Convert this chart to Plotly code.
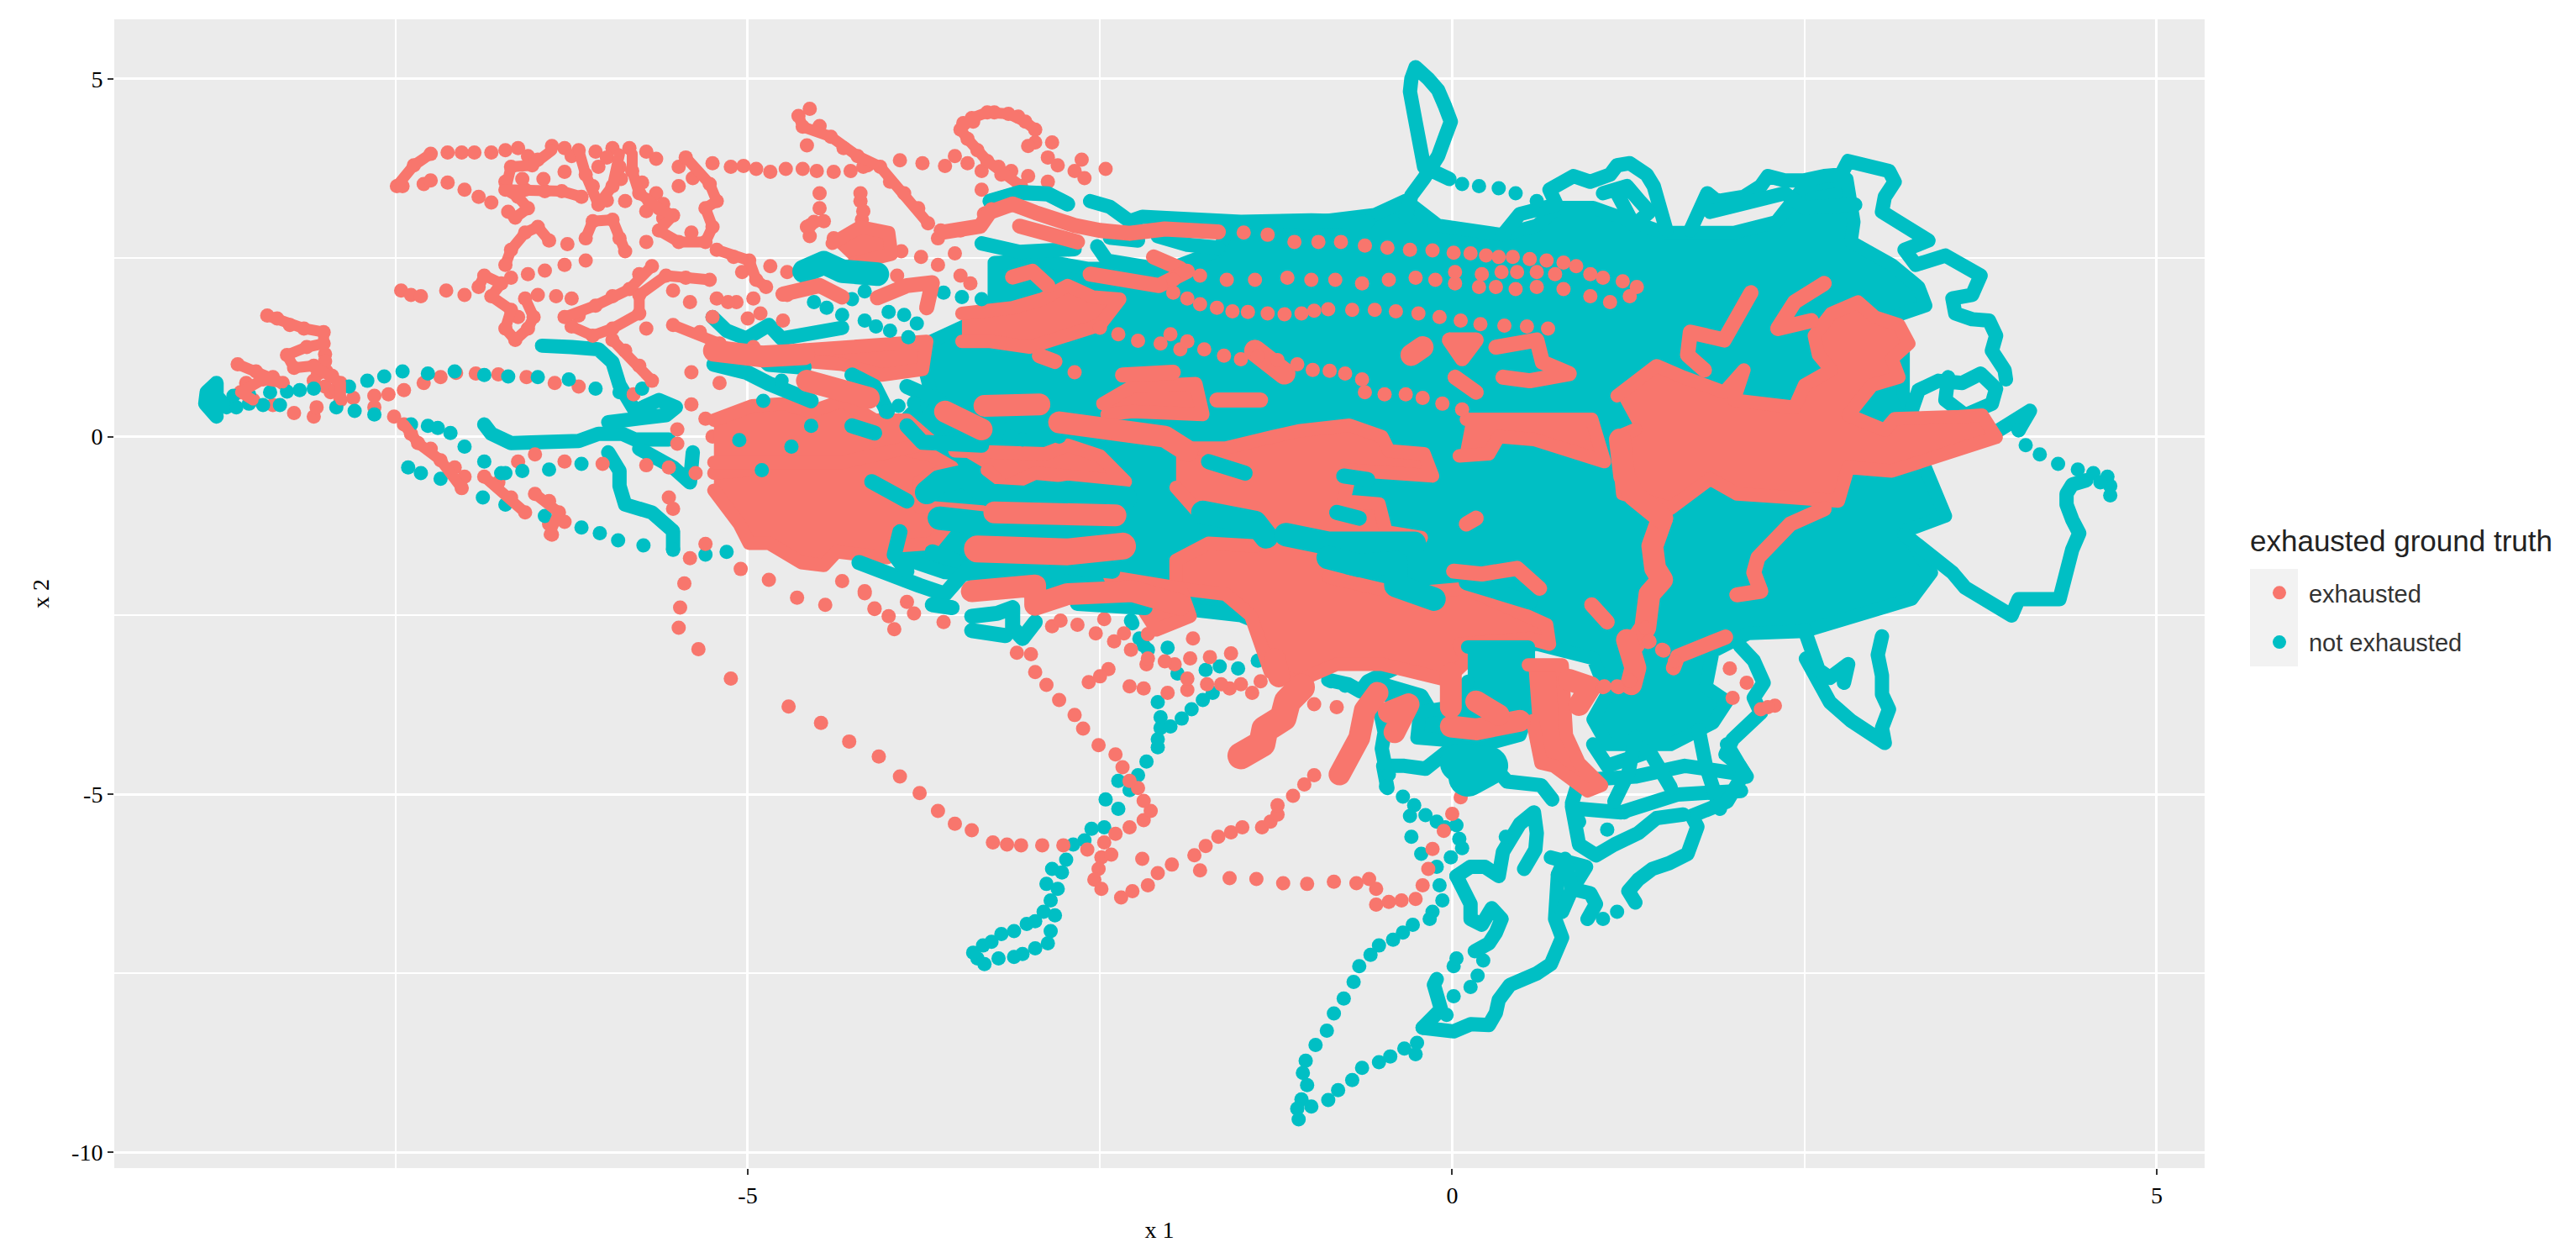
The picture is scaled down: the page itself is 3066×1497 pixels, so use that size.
import plotly.graph_objects as go

RED = "#F8766D"
TEAL = "#00BFC4"

# ---------- values: (x1, x2) ----------
teal_mass = [(-3.73,1.3),(-3.4,1.6),(-3.25,1.9),(-3.25,2.43),(-2.9,2.46),(-2.59,2.35),(-2.0,2.35),(-1.66,2.6),(-1.6,2.85),(-1.2,2.95),(-0.55,3.1),(-0.33,3.3),(-0.1,2.95),(0.36,2.82),(0.6,2.95),(0.75,3.2),(1.0,3.2),(1.5,2.85),(2.0,2.85),(2.3,3.0),(2.5,3.5),(2.8,3.6),(2.85,3.0),(2.83,2.72),(3.12,2.4),(3.31,2.09),(3.36,1.83),(3.12,1.67),(3.2,1.2),(3.2,0.6),(3.3,0.2),(3.35,-0.4),(3.5,-1.11),(3.21,-1.32),(3.4,-1.9),(3.26,-2.27),(2.5,-2.72),(2.1,-2.75),(1.85,-3.0),(1.8,-3.5),(1.95,-3.7),(1.85,-4.0),(1.55,-4.3),(1.1,-4.3),(1.0,-3.95),(1.1,-3.6),(1.0,-3.1),(0.6,-2.9),(0.0,-2.95),(-0.5,-2.9),(-1.0,-2.9),(-1.5,-2.5),(-2.4,-2.3),(-3.0,-2.0),(-3.6,-1.9),(-3.9,-1.7),(-4.0,-1.0),(-3.8,-0.2),(-3.9,0.2),(-3.7,0.6),(-3.75,1.0)]
teal_pocket = [(0.11,-2.94),(0.54,-2.94),(0.54,-3.85),(0.48,-4.17),(0.26,-4.29),(-0.25,-4.21),(-0.23,-3.85),(-0.01,-3.78),(0.11,-3.42)]

teal_top_loop = [(-0.33,3.08),(-0.29,3.37),(-0.2,3.61),(-0.14,3.77),(-0.1,3.92),(-0.05,4.19),(-0.01,4.4),(-0.05,4.61),(-0.1,4.84),(-0.17,5.0),(-0.26,5.16),(-0.29,5.0),(-0.3,4.82),(-0.27,4.5),(-0.24,4.19),(-0.2,3.92),(-0.2,3.77),(-0.14,3.71),(-0.02,3.6)]
teal_loop_a = [(0.36,2.82),(0.48,3.11),(0.74,3.24),(0.69,3.45),(0.86,3.64),(0.98,3.56),(1.12,3.66),(1.17,3.79),(1.26,3.82),(1.38,3.66),(1.43,3.5),(1.48,3.19),(1.52,2.88)]
teal_loop_b = [(1.07,3.4),(1.24,3.5),(1.33,3.29),(1.4,3.14),(1.29,2.95),(1.21,3.19),(1.17,3.4)]
teal_edge_a = [(1.69,2.88),(1.76,3.14),(1.81,3.4),(1.88,3.29),(2.07,3.35),(2.19,3.5),(2.24,3.64),(2.36,3.58),(2.5,3.58),(2.64,3.64),(2.76,3.66),(2.81,3.85),(2.98,3.79),(3.1,3.71),(3.14,3.56),(3.07,3.35),(3.05,3.14),(3.17,3.01),(3.29,2.88),(3.38,2.74),(3.21,2.61),(3.29,2.4),(3.5,2.53),(3.64,2.38),(3.75,2.25),(3.69,1.98),(3.55,1.93),(3.57,1.72),(3.69,1.64),(3.81,1.62),(3.86,1.41),(3.83,1.2),(3.92,0.93),(3.93,0.8)]
teal_edge_b = [(1.83,3.14),(2.02,3.24),(2.36,3.4),(2.5,3.2),(2.86,3.24)]
teal_edge_c = [(3.26,0.36),(3.31,0.65),(3.45,0.78),(3.62,0.75),(3.75,0.88),(3.86,0.67),(3.83,0.46),(3.64,0.3),(3.5,0.51),(3.52,0.83)]
teal_edge_d = [(3.88,0.09),(4.02,0.25),(4.1,0.36),(4.02,0.09)]
teal_far_right = [(4.5,-0.61),(4.4,-0.67),(4.36,-0.8),(4.36,-0.95),(4.4,-1.16),(4.45,-1.35),(4.4,-1.58),(4.37,-1.85),(4.33,-2.06),(4.31,-2.27),(4.17,-2.27),(4.02,-2.27),(3.97,-2.5),(3.79,-2.29),(3.64,-2.11),(3.55,-1.9),(3.4,-1.64),(3.21,-1.37)]
teal_low_right = [(2.51,-3.1),(2.58,-3.39),(2.68,-3.71),(2.83,-3.97),(2.98,-4.2),(3.07,-4.28),(3.05,-4.07),(3.1,-3.81),(3.05,-3.6),(3.05,-3.34),(3.02,-3.05),(3.05,-2.79)]
teal_low_right_b = [(2.78,-3.44),(2.81,-3.18),(2.68,-3.37),(2.6,-3.26),(2.5,-2.7)]
teal_lower_a = [(-0.46,-4.91),(-0.49,-4.6),(-0.34,-4.6),(-0.19,-4.64),(-0.01,-4.36),(0.17,-4.44),(0.31,-4.64),(0.39,-4.82),(0.63,-4.87),(0.71,-5.07)]
teal_lower_b = [(-0.51,-3.85),(-0.48,-4.13),(-0.5,-4.36),(-0.48,-4.56)]
teal_lower_c = [(-0.88,-3.4),(-0.74,-3.46),(-0.65,-3.56),(-0.6,-3.42),(-0.4,-3.23),(-0.31,-3.11)]
teal_lower_d = [(-0.42,-3.7),(-0.5,-3.46),(-0.22,-3.62),(-0.16,-3.82)]
teal_lobe = [(0.05,-4.56),(0.26,-4.6),(0.11,-4.76)]
teal_cluster_a = [(0.85,-5.12),(0.9,-4.8),(1.3,-4.75),(1.65,-4.6),(2.0,-4.7)]
teal_cluster_b = [(0.9,-5.2),(1.2,-5.25),(1.6,-5.0),(2.05,-4.95)]
teal_cluster_c = [(1.0,-4.3),(1.1,-4.6),(1.4,-4.4),(1.55,-4.9)]
teal_cluster_d = [(1.75,-4.1),(1.8,-4.6),(1.9,-5.2)]
teal_cluster_e = [(1.3,-4.2),(1.25,-4.7),(1.15,-5.1)]
teal_cluster_f = [(1.95,-4.3),(2.07,-4.7),(1.95,-5.1),(1.7,-5.3),(1.74,-5.45),(1.72,-5.59),(1.67,-5.83),(1.54,-5.96),(1.42,-6.04),(1.32,-6.19),(1.25,-6.35),(1.3,-6.51)]
teal_low_edge = [(2.04,-2.92),(2.14,-3.13),(2.21,-3.44),(2.14,-3.65),(2.19,-3.86),(2.09,-4.07),(1.99,-4.23),(1.94,-4.44),(2.04,-4.6),(2.09,-4.75)]
teal_bottom_loop = [(0.75,-6.12),(0.75,-6.43),(0.73,-6.74),(0.78,-7.0),(0.74,-7.21),(0.7,-7.37),(0.6,-7.5),(0.53,-7.58),(0.41,-7.66),(0.33,-7.87),(0.31,-8.05),(0.26,-8.22),(0.13,-8.21),(0.01,-8.31),(-0.16,-8.26),(-0.21,-8.26),(-0.08,-8.0),(-0.1,-7.82),(-0.13,-7.66),(-0.11,-7.58)]
teal_low_mid = [(0.03,-6.14),(0.09,-6.32),(0.13,-6.53),(0.13,-6.74),(0.21,-6.82),(0.28,-6.59),(0.35,-6.74),(0.31,-6.93),(0.26,-7.08),(0.16,-7.19)]
teal_low_mid_b = [(0.03,-6.14),(0.13,-6.01),(0.23,-6.01),(0.33,-6.14),(0.36,-5.8),(0.43,-5.59),(0.48,-5.41),(0.58,-5.25),(0.6,-5.54),(0.59,-5.77),(0.51,-6.04)]
teal_low_mid_c = [(0.7,-5.88),(0.85,-5.96),(0.95,-6.01),(0.9,-6.17),(0.85,-6.32),(0.98,-6.38),(1.02,-6.53),(0.96,-6.74)]
teal_low_mid_d = [(0.9,-5.38),(0.85,-5.17),(0.9,-5.7),(1.02,-5.85),(1.15,-5.7),(1.32,-5.54),(1.45,-5.33),(1.64,-5.28)]
teal_low_mid_e = [(0.78,-6.64),(0.85,-6.32),(0.8,-5.9),(0.75,-6.12)]

teal_dots_bottom = [(-0.07,-6.48),(-0.14,-6.64),(-0.16,-6.74),(-0.28,-6.82),(-0.35,-6.93),(-0.42,-7.03),(-0.52,-7.11),(-0.58,-7.24),(-0.66,-7.4),(-0.7,-7.62),(-0.77,-7.85),(-0.84,-8.06),(-0.89,-8.3),(-0.97,-8.5),(-1.04,-8.72),(-1.06,-8.89),(-1.03,-9.06),(-1.07,-9.26),(-1.1,-9.39),(-1.09,-9.54),(-1.0,-9.36),(-0.88,-9.27),(-0.81,-9.13),(-0.71,-8.99),(-0.64,-8.82),(-0.52,-8.74),(-0.44,-8.66),(-0.34,-8.55),(-0.26,-8.63),(-0.25,-8.47),(-0.21,-8.26),(-0.04,-8.08),(0.01,-7.82),(0.01,-7.4),(0.03,-7.29),(0.13,-7.69),(0.18,-7.53),(0.22,-7.32),(-0.35,-5.03),(-0.27,-5.15),(-0.3,-5.3),(-0.19,-5.29),(-0.11,-5.38),(-0.05,-5.46),(-0.29,-5.59),(-0.22,-5.83),(0.03,-5.43),(0.05,-5.62),(0.07,-5.75),(-0.01,-5.88),(-0.11,-6.01),(-0.09,-6.27),(0.38,-5.59),(1.07,-6.74),(1.17,-6.64),(1.1,-5.49),(1.22,-5.25),(-0.45,-4.72),(-0.47,-4.89)]
teal_dots_lowleft = [(-2.09,-4.34),(-2.09,-4.23),(-2.07,-4.07),(-2.0,-4.05),(-1.92,-3.94),(-1.85,-3.81),(-1.77,-3.68),(-1.70,-3.58),(-2.09,-3.71),(-2.07,-3.92),(-2.17,-4.54),(-2.23,-4.73),(-2.29,-4.94),(-2.37,-4.81),(-2.37,-5.2),(-2.46,-5.07),(-2.47,-5.46),(-2.56,-5.48),(-2.61,-5.64),(-2.69,-5.7),(-2.74,-5.91),(-2.77,-6.09),(-2.84,-6.04),(-2.88,-6.25),(-2.8,-6.32),(-2.85,-6.48),(-2.9,-6.64),(-2.82,-6.69),(-2.85,-6.91),(-2.87,-7.08),(-2.96,-7.15),(-3.05,-7.23),(-3.11,-7.27),(-3.22,-7.29),(-3.32,-7.37),(-3.37,-7.29),(-3.4,-7.21),(-3.33,-7.11),(-3.27,-7.06),(-3.2,-6.95),(-3.11,-6.91),(-3.02,-6.81),(-2.96,-6.77)]
teal_dots_mid_low = [(-2.27,-2.61),(-2.19,-2.92),(-2.02,-2.95),(-1.95,-3.31),(-1.75,-3.26),(-1.52,-3.24),(-1.65,-3.21),(-1.38,-3.13),(-1.13,-3.13),(-0.86,-3.42),(-0.76,-3.48),(-0.14,-3.86),(-0.21,-3.95),(-2.28,-2.57),(-2.22,-2.82),(-2.16,-2.98)]
teal_dots_right = [(0.07,3.53),(0.19,3.5),(0.33,3.47),(0.45,3.4),(0.6,3.29),(4.02,0.09),(4.07,-0.12),(4.17,-0.25),(4.3,-0.38),(4.44,-0.46),(4.55,-0.51),(4.65,-0.56),(4.67,-0.69),(4.67,-0.82),(4.6,-0.64)]
teal_dots_left = [(-8.63,0.41),(-8.54,0.46),(-8.44,0.44),(-8.32,0.44),(-8.65,0.57),(-8.54,0.59),(-8.39,0.62),(-8.27,0.63),(-8.18,0.65),(-8.08,0.67),(-7.92,0.41),(-7.79,0.36),(-7.65,0.31),(-7.83,0.7),(-7.7,0.78),(-7.58,0.84),(-7.45,0.91),(-7.27,0.88),(-7.08,0.91),(-6.87,0.86),(-6.7,0.84),(-6.49,0.83),(-6.27,0.8),(-6.08,0.67),(-5.91,0.62),(-5.75,0.67),(-7.39,0.17),(-7.27,0.15),(-7.2,0.12),(-7.11,0.05),(-7.01,-0.14),(-6.87,-0.35),(-6.75,-0.51),(-6.88,-0.85),(-6.72,-0.95),(-6.44,-1.11),(-6.18,-1.27),(-6.05,-1.35),(-5.92,-1.45),(-5.74,-1.52),(-5.53,-1.58),(-5.3,-1.65),(-5.15,-1.61),(-7.41,-0.43),(-7.32,-0.51),(-7.18,-0.59),(-6.72,-0.51),(-6.6,-0.48),(-6.41,-0.46),(-6.18,-0.38)]
teal_dots_centre = [(-4.17,1.62),(-4.09,1.54),(-3.99,1.48),(-3.89,1.7),(-3.8,1.58),(-3.86,1.39),(-4.0,1.74),(-4.17,2.03),(-4.26,1.92),(-4.53,1.88),(-4.44,1.8),(-4.33,1.7),(-3.61,2.01),(-3.48,1.95),(-3.34,1.92),(-3.93,0.43),(-3.82,0.47),(-4.02,0.35),(-4.76,0.78),(-4.89,0.5),(-5.06,-0.05),(-4.69,-0.14),(-4.55,0.15),(-3.18,0.29),(-3.14,0.0),(-3.05,-0.04),(-2.79,0.0),(-4.9,-0.47)]
teal_far_left = [(-8.7,0.41),(-8.77,0.57),(-8.77,0.75),(-8.84,0.62),(-8.85,0.46),(-8.77,0.28)]
teal_left_a = [(-6.87,0.17),(-6.82,0.04),(-6.68,-0.09),(-6.49,-0.09),(-6.32,-0.09),(-6.2,-0.06),(-6.06,0.04),(-5.89,0.04),(-5.8,-0.04),(-5.68,-0.04),(-5.56,-0.04)]
teal_left_b = [(-5.99,0.2),(-5.77,0.23),(-5.58,0.3),(-5.51,0.41),(-5.63,0.51),(-5.8,0.36),(-5.91,0.72),(-5.96,1.04),(-6.06,1.22),(-6.25,1.25),(-6.46,1.27)]
teal_left_c = [(-5.99,-0.22),(-5.91,-0.48),(-5.91,-0.69),(-5.87,-0.95),(-5.68,-1.06),(-5.53,-1.32),(-5.53,-1.58)]
teal_left_d = [(-5.77,-0.17),(-5.53,-0.43),(-5.41,-0.64),(-5.39,-0.22)]
teal_left_e = [(-5.25,1.67),(-5.15,1.48),(-5.01,1.37),(-4.85,1.56),(-4.76,1.37),(-4.55,1.45),(-4.33,1.52)]
teal_upper_a = [(-3.28,3.29),(-3.07,3.41),(-2.87,3.39),(-2.73,3.25)]
teal_upper_b = [(-2.57,3.29),(-2.43,3.21),(-2.29,3.01),(-2.2,3.07),(-2.0,3.05),(-1.5,3.0),(-1.0,3.02),(-0.6,3.0)]
teal_upper_c = [(-3.34,2.7),(-3.23,2.66),(-3.14,2.6),(-3.07,2.58),(-2.87,2.6),(-2.68,2.62)]
teal_upper_d = [(-2.09,2.8),(-1.88,2.68),(-1.66,2.64)]
teal_upper_e = [(-2.52,2.66),(-2.45,2.46),(-2.18,2.37),(-1.97,2.35)]
teal_upper_f = [(-2.43,2.78),(-2.23,2.74)]
teal_blob_top = [(-4.6,2.31),(-4.46,2.43),(-4.33,2.31),(-4.08,2.27)]
teal_row_a = [(-5.24,1.01),(-5.01,0.9),(-4.85,0.74),(-4.72,0.62),(-4.55,0.5)]
teal_row_b = [(-4.94,1.17),(-4.85,1.01),(-4.6,0.97)]
teal_row_c = [(-4.26,0.86),(-4.1,0.7),(-4.01,0.35)]
teal_row_d = [(-3.87,0.7),(-3.64,0.5),(-3.6,0.15)]
teal_row_e = [(-3.87,0.15),(-3.76,-0.08),(-3.34,-0.12)]
teal_row_f = [(-4.26,0.15),(-4.1,0.05)]
teal_row_g = [(-3.64,-1.14),(-3.28,-1.22),(-3.34,-1.33),(-2.96,-1.37),(-2.73,-1.37)]
teal_row_h = [(-3.73,-0.78),(-3.64,-0.63),(-3.46,-0.55),(-3.28,-0.82),(-2.96,-0.86),(-2.73,-0.78),(-2.32,-0.86)]
teal_row_i = [(-4.21,-1.76),(-3.98,-1.96),(-3.78,-2.08),(-3.6,-2.2),(-3.44,-1.84),(-3.05,-1.82),(-2.91,-1.82),(-2.75,-1.82),(-2.41,-1.88)]
teal_row_j = [(-3.92,-1.33),(-3.96,-1.65),(-3.87,-1.88)]
teal_row_k = [(-3.69,-1.61),(-3.53,-1.73)]
teal_row_l = [(-3.69,-2.35),(-3.55,-2.39)]
teal_row_m = [(-3.41,-2.51),(-3.23,-2.47),(-3.12,-2.39),(-3.12,-2.67),(-3.05,-2.82),(-2.96,-2.59)]
teal_row_n = [(-3.41,-2.71),(-3.3,-2.75),(-3.17,-2.78)]
teal_row_o = [(-2.66,-2.33),(-2.41,-2.35),(-2.18,-2.39)]
teal_row_p = [(-4.12,-0.63),(-3.87,-0.9)]
teal_row_q = [(-1.77,-1.06),(-1.4,-1.2),(-1.32,-1.4)]
teal_row_r = [(-1.18,-1.37),(-0.88,-1.49),(-0.59,-1.49),(-0.27,-1.49)]
teal_row_s = [(-0.88,-1.69),(-0.66,-1.8),(-0.4,-1.76),(-0.4,-2.08),(-0.13,-2.27)]
teal_row_t = [(-1.73,-0.35),(-1.47,-0.51)]
teal_row_u = [(-0.82,-1.06),(-0.66,-1.14)]
teal_row_v = [(0.1,-2.04),(0.33,-2.16),(0.55,-2.31)]
teal_row_w = [(-0.77,-0.55),(-0.6,-0.6)]

red_right_blob = [(1.17,0.57),(1.45,0.99),(1.64,0.83),(1.93,0.62),(2.07,0.93),(2.0,0.51),(2.43,0.41),(2.5,0.72),(2.69,0.93),(2.6,1.14),(2.57,1.41),(2.69,1.72),(2.88,1.88),(3.0,1.67),(3.17,1.56),(3.24,1.3),(3.12,1.09),(3.17,0.83),(2.98,0.72),(2.81,0.3),(3.07,0.09),(3.14,0.25),(3.6,0.28),(3.76,0.3),(3.86,-0.01),(3.36,-0.35),(3.12,-0.48),(2.81,-0.43),(2.74,-0.9),(2.4,-0.85),(2.02,-0.8),(1.83,-0.59),(1.55,-1.0),(1.21,-0.8),(1.17,-0.01),(1.3,0.1)]
red_left_blob = [(-5.24,-0.51),(-5.01,-0.47),(-4.83,-0.24),(-4.33,0.04),(-3.69,-0.27),(-3.55,-0.43),(-3.78,-0.63),(-3.78,-0.98),(-3.3,-1.06),(-3.64,-1.1),(-3.59,-1.25),(-3.69,-1.49),(-3.96,-1.53),(-4.01,-1.69),(-4.37,-1.61),(-4.46,-1.8),(-4.62,-1.76),(-4.74,-1.61),(-4.85,-1.49),(-4.99,-1.49),(-5.06,-1.22),(-5.24,-0.75)]
red_left_top = [(-5.24,0.23),(-4.97,0.43),(-4.74,0.46),(-4.55,0.35),(-4.33,0.5),(-4.1,0.23),(-3.87,0.23),(-3.69,-0.08),(-4.33,-0.36),(-5.24,-0.36)]
red_left_chunk = [(-3.53,-0.2),(-2.89,-0.24),(-2.73,-0.12),(-2.5,-0.27),(-2.32,-0.63),(-2.73,-0.55),(-2.96,-0.51),(-3.18,-0.71),(-3.3,-0.47)]
red_upper_blob = [(-4.4,2.7),(-4.2,2.93),(-4.0,2.85),(-3.98,2.55),(-4.25,2.42)]
red_ctr_top = [(-3.48,1.72),(-3.12,1.8),(-2.91,1.92),(-2.73,2.11),(-2.55,1.95),(-2.36,1.92),(-2.5,1.56),(-2.71,1.41),(-3.0,1.25),(-3.28,1.33),(-3.48,1.33)]
red_ctr_band = [(-4.6,1.21),(-4.21,1.25),(-3.73,1.33),(-3.76,0.94),(-4.05,0.86),(-4.33,1.01),(-4.58,1.05)]
red_ctr_mid = [(-2.48,0.46),(-2.27,0.7),(-1.82,0.74),(-1.77,0.31),(-2.27,0.35),(-2.45,0.31)]
red_centre_blob = [(-1.96,-0.16),(-1.61,-0.16),(-1.27,0.0),(-1.09,0.08),(-0.73,0.16),(-0.5,0.0),(-0.45,-0.2),(-0.2,-0.24),(-0.14,-0.55),(-0.72,-0.47),(-0.77,-0.9),(-0.52,-0.94),(-0.47,-1.33),(-0.22,-1.41),(-0.54,-1.45),(-0.68,-1.69),(-0.88,-1.96),(-0.36,-2.2),(0.1,-2.12),(0.33,-2.31),(0.67,-2.63),(0.69,-2.9),(0.55,-2.82),(0.05,-2.9),(0.1,-3.14),(-0.04,-3.4),(-0.5,-3.18),(-0.82,-3.18),(-1.1,-3.42),(-1.29,-3.29),(-1.43,-2.5),(-1.61,-2.2),(-1.96,-2.12),(-1.96,-1.73),(-1.84,-1.61),(-1.73,-1.49),(-1.39,-1.53),(-1.32,-1.33),(-1.59,-1.1),(-1.82,-1.02),(-1.96,-0.71)]
red_mid_blob = [(0.1,0.24),(0.99,0.24),(1.08,-0.35),(0.83,-0.2),(0.58,-0.04),(0.33,0.0),(0.26,-0.24),(0.05,-0.27)]
red_low_wedge = [(0.54,-3.19),(0.78,-3.19),(0.81,-4.17),(0.9,-4.56),(1.06,-4.87),(0.96,-4.95),(0.72,-4.6),(0.63,-4.56),(0.57,-3.97)]
red_bottom_blob = [(-2.43,-1.96),(-1.93,-2.12),(-1.86,-2.51),(-2.1,-2.7),(-2.23,-2.3)]

red_arm_a = [(2.12,2.01),(2.02,1.67),(1.93,1.35),(1.69,1.46),(1.67,1.14),(1.79,0.93)]
red_arm_b = [(2.64,2.14),(2.43,1.88),(2.31,1.51),(2.55,1.62)]
red_arm_c = [(1.49,-1.14),(1.42,-1.53),(1.44,-1.84),(1.49,-2.0),(1.4,-2.2),(1.39,-2.51),(1.37,-2.67),(1.29,-2.9)]
red_arm_d = [(2.64,-1.01),(2.4,-1.22),(2.17,-1.69),(2.14,-1.9),(2.19,-2.16),(2.02,-2.21)]
red_arm_e = [(1.94,-2.8),(1.76,-2.97),(1.6,-3.07),(1.57,-3.23)]
red_arm_f = [(1.24,-2.84),(1.3,-3.23),(1.27,-3.46)]
red_arm_g = [(1.19,-0.04),(1.22,-0.55),(1.29,-0.82),(1.49,-1.14)]
red_circle = [(0.83,-3.4),(0.98,-3.5),(0.9,-3.75)]
red_trail_low_b = [(-0.01,-4.05),(0.17,-4.09),(0.48,-3.97)]
red_low_blob = [(-1.5,-4.46),(-1.35,-4.29),(-1.33,-4.09),(-1.2,-3.93),(-1.17,-3.7),(-1.07,-3.5)]
red_low_b = [(-0.8,-4.72),(-0.71,-4.44),(-0.66,-4.21),(-0.62,-3.82),(-0.53,-3.58)]
red_low_c = [(-0.45,-3.85),(-0.31,-3.74),(-0.41,-4.13)]
red_low_d = [(-0.01,-3.31),(-0.01,-3.78)]
red_low_e = [(0.17,-3.7),(0.33,-3.89)]
red_low_f = [(-1.26,-3.11),(-1.23,-3.35)]
red_row_a = [(-3.32,3.11),(-3.12,3.25),(-2.96,3.13),(-2.82,3.03),(-2.68,2.95),(-2.5,2.88),(-2.29,2.84),(-2.04,2.9),(-1.66,2.86)]
red_row_b = [(-3.07,2.94),(-2.84,2.84),(-2.66,2.72)]
red_row_c = [(-3.12,2.23),(-2.98,2.31),(-2.87,2.11)]
red_row_d = [(-2.57,2.27),(-2.34,2.19),(-2.08,2.11),(-1.88,2.31)]
red_row_e = [(-3.6,2.86),(-3.35,2.94),(-3.27,3.17)]
red_row_f = [(-4.08,1.94),(-3.87,2.11),(-3.69,2.15),(-3.73,1.8)]
red_row_g = [(-4.75,1.99),(-4.49,2.11),(-4.33,1.95)]
red_row_h = [(-4.58,0.78),(-4.14,0.54)]
red_row_i = [(-3.32,0.43),(-3.0,0.45),(-2.93,0.45)]
red_row_j = [(-3.6,0.35),(-3.34,0.1)]
red_row_k = [(-2.79,0.2),(-2.43,0.11),(-2.04,0.0),(-1.88,-0.2)]
red_row_l = [(-3.37,-1.57),(-2.73,-1.61),(-2.34,-1.53)]
red_row_m = [(-3.25,-1.06),(-2.39,-1.1)]
red_row_n = [(-3.41,-2.16),(-2.96,-2.08),(-2.96,-2.35),(-2.73,-2.2),(-2.27,-2.16),(-1.93,-2.35)]
red_row_o = [(-2.93,1.13),(-2.82,1.05)]
red_row_p = [(-2.34,0.86),(-1.98,0.9)]
red_row_q = [(-5.24,1.2),(-4.9,1.12),(-4.6,1.15)]
red_net_a = [(0.01,-1.88),(0.21,-1.92),(0.46,-1.84),(0.62,-2.12)]
red_net_b = [(0.99,-2.35),(1.1,-2.59)]
red_net_c = [(0.1,-1.22),(0.17,-1.14)]
red_band_i = [(-0.29,1.14),(-0.21,1.25)]
red_band_j = [(-1.67,0.51),(-1.36,0.51)]
red_band_k = [(-1.4,1.2),(-1.19,0.88)]
red_band_m = [(-2.12,2.51),(-1.93,2.35)]
red_loop_a = [(-0.02,1.35),(0.17,1.35),(0.07,1.09),(-0.02,1.35)]
red_loop_b = [(0.31,1.25),(0.6,1.35),(0.64,1.04),(0.83,0.88),(0.55,0.78),(0.36,0.83)]
red_loop_c = [(0.02,0.83),(0.17,0.62)]

red_chain_a = [(-7.49,3.5),(-7.37,3.79),(-7.25,3.95)]
red_chain_b = [(-6.72,3.45),(-6.68,3.77),(-6.53,3.79),(-6.39,4.0)]
red_chain_c = [(-6.2,4.0),(-6.15,3.66),(-6.06,3.24),(-5.96,3.5),(-5.91,3.95)]
red_chain_d = [(-5.82,3.95),(-5.82,3.71),(-5.77,3.4),(-5.63,3.19),(-5.53,3.09),(-5.63,2.88),(-5.49,2.72),(-5.3,2.72),(-5.25,2.93),(-5.3,3.19),(-5.22,3.29),(-5.27,3.53),(-5.44,3.9)]
red_chain_e = [(-6.7,3.14),(-6.65,3.06),(-6.56,3.19),(-6.63,3.35),(-6.72,3.45),(-6.58,3.45),(-6.32,3.43),(-6.18,3.35)]
red_chain_f = [(-6.15,2.77),(-6.1,3.01),(-5.96,3.03),(-5.91,2.77),(-5.87,2.59)]
red_chain_g = [(-6.72,2.4),(-6.68,2.61),(-6.58,2.85),(-6.49,2.93),(-6.41,2.74)]
red_chain_h = [(-6.91,2.09),(-6.87,2.25),(-6.75,2.14),(-6.82,1.96),(-6.68,1.77),(-6.72,1.51),(-6.65,1.35),(-6.56,1.51),(-6.52,1.67),(-6.58,1.93)]
red_chain_i = [(-8.41,1.69),(-8.15,1.51),(-8.01,1.46),(-8.01,1.3),(-8.13,1.25),(-8.27,1.14),(-8.22,0.96),(-8.08,0.99),(-7.89,0.75),(-7.89,0.51)]
red_chain_j = [(-8.62,1.01),(-8.49,0.91),(-8.3,0.75),(-8.44,0.8),(-8.6,0.62),(-8.51,0.51)]
red_chain_k = [(-6.3,1.67),(-6.08,1.83),(-5.84,2.06),(-5.68,2.38)]
red_chain_l = [(-6.25,1.54),(-6.1,1.41),(-5.96,1.51),(-5.77,1.72),(-5.77,1.98),(-5.58,2.25),(-5.27,2.19)]
red_chain_m = [(-5.96,1.35),(-5.77,0.99),(-5.68,0.78)]
red_chain_n = [(-5.53,1.56),(-5.2,1.3),(-5.06,1.14)]
red_chain_o = [(-5.22,2.61),(-4.99,2.46),(-4.94,2.19),(-4.87,2.09)]
red_chain_p = [(-4.64,4.48),(-4.61,4.33),(-4.41,4.19),(-4.22,3.92),(-4.06,3.77),(-3.89,3.4),(-3.72,2.98)]
red_chain_q = [(-2.96,4.29),(-3.03,4.4),(-3.15,4.51),(-3.3,4.53),(-3.41,4.45),(-3.49,4.29),(-3.44,4.16),(-3.3,3.85),(-3.06,3.5)]
red_chain_r = [(-7.03,-0.72),(-7.18,-0.33),(-7.34,-0.09),(-7.44,0.17)]
red_chain_s = [(-6.87,-0.56),(-6.58,-1.06)]
red_chain_t = [(-6.51,-0.8),(-6.34,-1.06),(-6.41,-1.37)]

red_dots_rows = [(-1.48,2.85),(-1.31,2.82),(-1.12,2.72),(-0.95,2.72),(-0.79,2.72),(-0.62,2.67),(-0.46,2.64),(-0.3,2.61),(-0.14,2.6),(0.01,2.57),(0.13,2.56),(0.24,2.53),(0.33,2.51),(0.43,2.51),(0.55,2.48),(0.67,2.46),(0.79,2.43),(0.88,2.38),(0.98,2.27),(1.07,2.22),(1.21,2.17),(1.31,2.09),(1.26,1.96),(1.12,1.88),(0.98,1.96),(0.79,2.06),(0.6,2.09),(0.45,2.06),(0.31,2.09),(0.19,2.09),(0.02,2.14),(-0.12,2.19),(-0.26,2.22),(-0.45,2.19),(-0.64,2.14),(-0.83,2.19),(-1.0,2.19),(-1.17,2.22),(-1.4,2.19),(-1.6,2.19),(-1.79,2.25),(-1.98,2.19),(0.02,2.3),(0.21,2.27),(0.35,2.3),(0.46,2.3),(0.6,2.3),(0.73,2.27),(-1.98,2.01),(-1.88,1.93),(-1.79,1.85),(-1.67,1.8),(-1.56,1.75),(-1.45,1.74),(-1.31,1.72),(-1.19,1.71),(-1.07,1.72),(-0.98,1.76),(-0.88,1.78),(-0.71,1.77),(-0.55,1.77),(-0.4,1.75),(-0.24,1.72),(-0.09,1.67),(0.06,1.62),(0.2,1.57),(0.37,1.55),(0.53,1.54),(0.68,1.51),(-1.76,1.22),(-1.62,1.13),(-1.5,1.08),(-1.38,1.12),(-1.24,1.07),(-1.1,1.01),(-0.99,0.93),(-0.87,0.92),(-0.76,0.88),(-0.64,0.8),(-0.62,0.62),(-0.48,0.59),(-0.33,0.59),(-0.21,0.54),(-0.07,0.46),(0.07,0.38),(-2.5,1.52),(-2.37,1.43),(-2.23,1.34),(-2.07,1.3),(-2.0,1.43),(-1.93,1.22),(-1.88,1.33),(-2.68,0.9),(1.07,-3.5),(1.18,-3.5),(1.5,-2.99),(1.39,-2.87),(1.08,-3.49),(1.17,-3.49),(1.26,-3.41),(1.37,-2.67),(1.4,-2.86),(1.49,-2.98),(1.58,-3.14)]
red_dots_low = [(-4.28,-4.26),(-4.07,-4.47),(-3.92,-4.75),(-3.78,-4.98),(-3.65,-5.23),(-3.53,-5.41),(-3.41,-5.5),(-3.26,-5.67),(-3.16,-5.7),(-3.06,-5.71),(-2.91,-5.71),(-2.76,-5.71),(-2.59,-5.77),(-2.49,-5.88),(-2.42,-5.84),(-2.47,-5.67),(-2.39,-5.55),(-2.29,-5.46),(-2.19,-5.36),(-2.14,-5.23),(-2.19,-5.09),(-2.23,-4.91),(-2.29,-4.81),(-2.34,-4.62),(-2.39,-4.44),(-2.51,-4.31),(-2.62,-4.08),(-2.68,-3.89),(-2.79,-3.68),(-2.88,-3.47),(-2.96,-3.29),(-3.09,-3.02),(-2.99,-3.04),(-5.49,-2.67),(-5.48,-2.39),(-5.45,-2.05),(-5.41,-1.7),(-5.35,-2.97),(-5.12,-3.38),(-4.71,-3.77),(-4.48,-4.0),(-2.51,-6.04),(-2.54,-6.19),(-2.49,-6.32),(-2.35,-6.44),(-2.27,-6.35),(-2.16,-6.27),(-2.09,-6.1),(-1.99,-5.98),(-1.83,-5.85),(-1.75,-5.72),(-1.66,-5.59),(-1.57,-5.53),(-1.49,-5.46),(-1.35,-5.46),(-1.29,-5.38),(-1.24,-5.28),(-1.24,-5.15),(-1.13,-5.02),(-1.05,-4.86),(-0.98,-4.73),(-2.2,-5.9),(-1.79,-6.06),(-1.58,-6.17),(-1.39,-6.18),(-1.2,-6.24),(-1.03,-6.25),(-0.84,-6.22),(-0.68,-6.24),(-0.59,-6.18),(-0.54,-6.32),(-0.54,-6.54),(-0.45,-6.5),(-0.36,-6.48),(-0.26,-6.46),(-0.21,-6.27),(-0.17,-6.04),(-0.14,-5.76),(-0.06,-5.51),(0.0,-5.27),(0.06,-5.04),(0.11,-4.85),(-0.98,-3.74),(-0.82,-3.78),(-0.15,-3.97),(0.42,-2.99),(0.49,-3.13),(-1.5,-3.46),(-1.58,-3.52),(-1.74,-3.46),(-1.64,-3.46),(-1.88,-3.54),(-1.88,-3.38),(-1.42,-3.58),(-1.36,-3.42),(-2.58,-3.43),(-2.44,-3.25),(-2.29,-3.49),(-2.5,-3.35),(-2.19,-3.52),(-2.02,-3.58),(-2.17,-3.18),(-1.97,-3.18),(-1.72,-3.08),(-1.57,-3.03),(-2.16,-3.1),(-2.04,-3.14),(-1.86,-3.1),(-1.84,-2.82),(-4.33,-2.02),(-4.17,-2.16),(-4.1,-2.41),(-4.0,-2.51),(-3.96,-2.69),(-3.82,-2.47),(-3.87,-2.31),(-3.61,-2.59),(-2.84,-2.65),(-2.78,-2.57),(-2.66,-2.63),(-2.53,-2.75),(-2.47,-2.55),(-2.4,-2.86),(-2.33,-2.75),(-2.28,-2.98),(-2.16,-2.76),(2.29,-3.76),(2.19,-3.81),(2.24,-3.78),(1.99,-3.65),(2.09,-3.44),(1.97,-3.24),(0.92,-3.71),(-4.17,-2.19),(-4.1,-2.4)]
red_dots_farleft = [(-8.41,1.69),(-8.34,1.65),(-8.25,1.56),(-8.15,1.51),(-8.01,1.46),(-8.01,1.3),(-8.13,1.25),(-8.27,1.14),(-8.22,0.96),(-8.08,0.99),(-7.99,0.91),(-7.89,0.75),(-7.96,0.62),(-8.08,0.78),(-7.89,0.51),(-8.62,1.01),(-8.49,0.91),(-8.37,0.83),(-8.3,0.75),(-8.44,0.8),(-8.56,0.75),(-8.6,0.62),(-8.51,0.51),(-8.37,0.44),(-8.22,0.33),(-8.08,0.28),(-8.06,0.41),(-8.0,0.7),(-7.95,0.85),(-8.05,0.88),(-7.92,0.66),(-8.0,1.15),(-8.0,1.05),(-7.8,0.54),(-7.65,0.57),(-7.55,0.59),(-7.44,0.65),(-7.3,0.75),(-7.18,0.83),(-7.07,0.89),(-6.93,0.88),(-6.77,0.87),(-6.57,0.83),(-6.37,0.75),(-6.2,0.7),(-5.81,0.59),(-7.65,0.41),(-7.51,0.28),(-7.44,0.17),(-7.39,0.04),(-7.34,-0.09),(-7.25,-0.17),(-7.18,-0.33),(-7.08,-0.43),(-7.01,-0.56),(-7.03,-0.72),(-6.87,-0.56),(-6.77,-0.64),(-6.68,-0.85),(-6.58,-1.06),(-6.51,-0.8),(-6.41,-0.9),(-6.34,-1.06),(-6.41,-1.22),(-6.39,-1.37),(-6.3,-1.19),(-6.63,-0.35),(-6.51,-0.25),(-6.3,-0.35),(-6.03,-0.38),(-5.72,-0.4),(-5.56,-0.43),(-5.37,-0.51),(-5.56,-0.85),(-5.53,-1.01)]
red_dots_topleft = [(-7.49,3.5),(-7.37,3.79),(-7.25,3.95),(-7.13,3.97),(-7.03,3.97),(-6.94,3.97),(-6.82,3.97),(-6.72,4.0),(-6.63,4.03),(-6.56,3.92),(-6.49,3.87),(-6.39,4.06),(-6.3,4.03),(-6.2,4.0),(-6.08,3.98),(-5.96,4.03),(-5.84,4.03),(-5.72,3.98),(-5.65,3.88),(-7.45,3.5),(-7.3,3.53),(-7.25,3.58),(-7.13,3.55),(-7.01,3.45),(-6.91,3.35),(-6.82,3.27),(-6.72,3.45),(-6.58,3.45),(-6.44,3.43),(-6.32,3.43),(-6.18,3.35),(-6.7,3.14),(-6.65,3.06),(-6.56,3.19),(-6.63,3.35),(-6.72,3.56),(-6.68,3.77),(-6.53,3.79),(-6.25,3.92),(-6.15,3.66),(-6.06,3.24),(-5.96,3.5),(-5.91,3.77),(-5.82,3.71),(-5.77,3.4),(-5.63,3.19),(-5.53,3.09),(-5.63,2.88),(-5.49,2.72),(-5.3,2.72),(-5.25,2.93),(-5.3,3.19),(-5.22,3.29),(-5.27,3.53),(-5.49,3.5),(-5.49,3.77),(-5.44,3.9),(-5.39,3.61),(-6.06,3.77),(-5.87,3.29),(-5.96,3.03),(-6.1,3.01),(-6.15,2.77),(-5.91,2.77),(-5.87,2.59),(-5.72,2.72),(-6.15,2.46),(-6.3,2.4),(-6.44,2.32),(-6.56,2.27),(-6.68,2.22),(-6.75,2.14),(-6.87,2.25),(-6.91,2.09),(-6.82,1.96),(-6.68,1.77),(-6.58,1.93),(-6.49,1.98),(-6.36,1.96),(-6.25,1.93),(-6.63,1.67),(-6.72,1.51),(-6.65,1.35),(-6.56,1.51),(-6.52,1.67),(-6.72,2.4),(-6.68,2.61),(-6.58,2.85),(-6.49,2.93),(-6.41,2.74),(-6.28,2.69),(-7.46,2.04),(-7.39,1.98),(-7.32,1.96),(-7.14,2.04),(-7.01,1.98),(-5.7,3.3),(-5.65,3.4),(-5.6,3.25),(-5.72,3.15),(-6.0,3.9),(-5.9,3.6),(-5.75,3.55),(-5.6,3.05),(-5.4,2.85),(-6.6,3.6),(-6.45,3.6),(-6.3,3.7),(-6.1,3.5),(-6.0,3.3)]
red_dots_mid = [(-5.22,2.61),(-5.1,2.51),(-4.99,2.46),(-5.04,2.3),(-4.94,2.19),(-4.84,2.38),(-4.72,2.3),(-4.87,2.09),(-4.72,1.98),(-4.58,2.09),(-5.68,2.38),(-5.77,2.27),(-5.84,2.06),(-5.96,1.96),(-6.08,1.83),(-6.2,1.69),(-6.3,1.67),(-6.25,1.54),(-6.1,1.41),(-5.96,1.51),(-5.77,1.72),(-5.77,1.98),(-5.58,2.25),(-5.44,2.22),(-5.27,2.19),(-5.22,1.93),(-5.53,2.04),(-5.41,1.88),(-5.72,1.51),(-5.96,1.35),(-5.87,1.2),(-5.77,0.99),(-5.68,0.78),(-5.53,1.56),(-5.34,1.46),(-5.2,1.3),(-5.06,1.14),(-4.96,1.25),(-5.08,1.88),(-4.96,1.93),(-4.91,1.72),(-5.25,1.67),(-5.4,0.9),(-5.2,0.75),(-5.4,0.45),(-5.3,0.25),(-5.5,-0.1),(-5.25,0.0),(-5.5,0.1),(-5.3,-1.5),(-5.05,-1.85),(-4.85,-2.0),(-4.65,-2.25),(-4.45,-2.35),(-5.14,1.88),(-5.0,1.65),(-4.75,1.62)]
red_dots_topmid = [(-4.64,4.48),(-4.56,4.58),(-4.61,4.33),(-4.49,4.34),(-4.41,4.19),(-4.32,4.03),(-4.22,3.92),(-4.15,3.79),(-4.06,3.77),(-3.99,3.56),(-3.89,3.4),(-3.79,3.19),(-3.72,2.98),(-3.65,2.77),(-4.58,4.07),(-5.25,3.82),(-5.12,3.77),(-5.03,3.78),(-4.94,3.74),(-4.84,3.7),(-4.73,3.74),(-4.61,3.74),(-4.51,3.71),(-4.39,3.7),(-4.27,3.71),(-4.18,3.77),(-3.92,3.86),(-3.76,3.82),(-3.6,3.78),(-3.53,3.92),(-3.44,3.82),(-3.34,3.71),(-3.22,3.77),(-3.13,3.71),(-3.01,3.64),(-2.87,3.56),(-3.49,4.29),(-3.41,4.45),(-3.3,4.53),(-3.15,4.51),(-3.03,4.4),(-2.96,4.29),(-2.96,4.11),(-2.84,4.11),(-3.01,4.06),(-2.87,3.9),(-2.8,3.79),(-2.63,3.87),(-2.68,3.71),(-2.46,3.74),(-2.61,3.61),(-3.44,4.16),(-3.37,4.0),(-3.3,3.85),(-3.2,3.66),(-3.06,3.5),(-3.34,3.45),(-4.49,3.4),(-4.49,3.19),(-4.46,3.01),(-4.56,2.8),(-4.39,2.77),(-4.2,3.29),(-4.19,3.03),(-3.63,2.88),(-3.49,2.88),(-3.53,2.56),(-3.77,2.51),(-3.65,2.4),(-3.91,2.59),(-3.94,2.25),(-3.49,2.25),(-3.42,2.14),(-4.58,2.93),(-3.4,4.4),(-3.47,4.38),(-3.25,4.53),(-3.08,4.47),(-4.53,3.0),(-4.56,2.95),(-4.2,3.4),(-4.18,3.15)]

x_ticks = [-5, 0, 5]
y_ticks = [-10, -5, 0, 5]
x_tick_labels = ["-5", "0", "5"]
y_tick_labels = ["-10", "-5", "0", "5"]
minor_grid = [-7.5, -2.5, 2.5]
series_names = ["exhausted", "not exhausted"]
legend_title = "exhausted ground truth"


def xs(points):
    return [p[0] for p in points]


def ys(points):
    return [p[1] for p in points]


fig = go.Figure()


def polygon(points, color):
    fig.add_trace(go.Scatter(x=xs(points), y=ys(points), mode="lines", fill="toself", fillcolor=color,
                             line=dict(color=color, width=16), showlegend=False, hoverinfo="skip"))


def ribbons(groups, color=TEAL, width=17):
    for g in groups:
        fig.add_trace(go.Scatter(x=xs(g), y=ys(g), mode="lines", line=dict(color=color, width=width),
                                 showlegend=False, hoverinfo="skip"))


def dots(points, color, name=None):
    fig.add_trace(go.Scatter(x=xs(points), y=ys(points), mode="markers", marker=dict(color=color, size=17),
                             name=name or "", legendgroup=name, showlegend=name is not None, hoverinfo="skip"))


# teal base
polygon(teal_mass, TEAL)
ribbons([teal_top_loop, teal_loop_a, teal_loop_b, teal_edge_a, teal_edge_b, teal_edge_c, teal_edge_d,
         teal_far_right, teal_low_right, teal_low_right_b, teal_lower_a, teal_lower_b, teal_lower_c, teal_lower_d,
         teal_cluster_a, teal_cluster_b, teal_cluster_c, teal_cluster_d, teal_cluster_e, teal_cluster_f,
         teal_low_edge, teal_bottom_loop, teal_low_mid, teal_low_mid_b, teal_low_mid_c, teal_low_mid_d,
         teal_low_mid_e, teal_far_left, teal_upper_a, teal_upper_b, teal_upper_c, teal_upper_d, teal_upper_e,
         teal_upper_f, teal_left_a, teal_left_b, teal_left_c, teal_left_d, teal_left_e])
# sparse dots
dots(red_dots_farleft, RED, series_names[0])
dots(teal_dots_left, TEAL, series_names[1])
dots(teal_dots_bottom, TEAL)
dots(teal_dots_lowleft, TEAL)
dots(teal_dots_mid_low, TEAL)
dots(teal_dots_right, TEAL)
dots(red_dots_low, RED)
dots(red_dots_topleft, RED)
dots(red_dots_mid, RED)
dots(red_dots_topmid, RED)
ribbons([red_chain_a, red_chain_b, red_chain_c, red_chain_d, red_chain_e, red_chain_f, red_chain_g, red_chain_h,
         red_chain_i, red_chain_j, red_chain_k, red_chain_l, red_chain_m, red_chain_n, red_chain_o, red_chain_p,
         red_chain_q, red_chain_r, red_chain_s, red_chain_t], RED, 13)
# red masses
for blob in [red_left_blob, red_left_top, red_left_chunk, red_upper_blob, red_ctr_top, red_ctr_band, red_ctr_mid,
             red_centre_blob, red_mid_blob, red_right_blob, red_bottom_blob]:
    polygon(blob, RED)
# teal runs crossing the red masses
polygon(teal_pocket, TEAL)
ribbons([teal_row_a, teal_row_b, teal_row_c, teal_row_d, teal_row_e, teal_row_f, teal_row_i, teal_row_j, teal_row_k,
         teal_row_l, teal_row_m, teal_row_n, teal_row_o, teal_row_p, teal_row_t, teal_row_u, teal_row_v, teal_row_w,
         teal_upper_a], TEAL, 18)
ribbons([teal_row_g, teal_row_h, teal_row_q, teal_row_r, teal_row_s, teal_blob_top], TEAL, 28)
ribbons([teal_lobe], TEAL, 46)
dots(teal_dots_centre, TEAL)
# red runs on top
polygon(red_low_wedge, RED)
ribbons([red_arm_a, red_arm_b, red_arm_d, red_arm_e, red_net_a, red_net_b, red_net_c, red_band_m, red_loop_a,
         red_loop_b, red_loop_c, red_row_a, red_row_b, red_row_c, red_row_d, red_row_e, red_row_f, red_row_g,
         red_row_o, red_row_p, red_band_j], RED, 18)
ribbons([red_arm_c, red_arm_f, red_arm_g, red_trail_low_b, red_low_b, red_low_c, red_low_d, red_low_e, red_low_f,
         red_circle, red_row_h, red_row_i, red_row_j, red_row_k, red_row_m, red_row_n, red_row_q, red_band_i,
         red_band_k], RED, 26)
ribbons([red_low_blob, red_row_l], RED, 32)
dots(red_dots_rows, RED)

fig.add_shape(type="rect", xref="paper", yref="paper", layer="below",
              x0=(2678 - 136) / 2488, x1=(2735 - 136) / 2488, y0=(1390 - 793) / 1367, y1=(1390 - 677) / 1367,
              fillcolor="#F2F2F2", line_width=0)
fig.add_annotation(text=legend_title, xref="paper", yref="paper", x=(2678 - 136) / 2488, y=(1390 - 643) / 1367,
                   xanchor="left", yanchor="middle", showarrow=False, align="left", xshift=-2,
                   font=dict(family="Liberation Sans", size=35, color="#222222"))

tick_font = dict(family="Liberation Serif", size=28, color="black")
fig.update_layout(
    width=3066, height=1497, autosize=False,
    margin=dict(l=136, r=442, t=23, b=107),
    paper_bgcolor="white", plot_bgcolor="#EBEBEB",
    font=dict(family="Liberation Sans", color="black"),
    xaxis=dict(range=[-9.496, 5.34], tickvals=x_ticks, ticktext=x_tick_labels, ticks="outside", ticklen=7, tickwidth=2,
               tickcolor="#333333", showgrid=True, gridcolor="white", gridwidth=3, zeroline=False, showline=False,
               minor=dict(tickvals=minor_grid, showgrid=True, gridcolor="white", gridwidth=1.5, ticks=""),
               tickfont=tick_font, title=dict(text="x 1", font=tick_font, standoff=16)),
    yaxis=dict(range=[-10.22, 5.83], tickvals=y_ticks, ticktext=y_tick_labels, ticks="outside", ticklen=7, tickwidth=2,
               tickcolor="#333333", showgrid=True, gridcolor="white", gridwidth=3, zeroline=False, showline=False,
               minor=dict(tickvals=minor_grid, showgrid=True, gridcolor="white", gridwidth=1.5, ticks=""),
               tickfont=tick_font, title=dict(text="x 2", font=tick_font, standoff=18)),
    legend=dict(x=1.0217, y=(1390 - 735) / 1367, yanchor="middle", xanchor="left", bgcolor="rgba(0,0,0,0)",
                font=dict(family="Liberation Sans", size=29, color="#333333"), itemwidth=60, tracegroupgap=18),
)

fig.write_html("out.html", config=dict(displayModeBar=False),
               post_script="document.body.style.margin='0';document.body.style.overflow='hidden';"
                           "var s=document.createElement('style');"
                           "s.textContent='.js-line{stroke-linejoin:round!important;stroke-linecap:round!important}';"
                           "document.head.appendChild(s);")
